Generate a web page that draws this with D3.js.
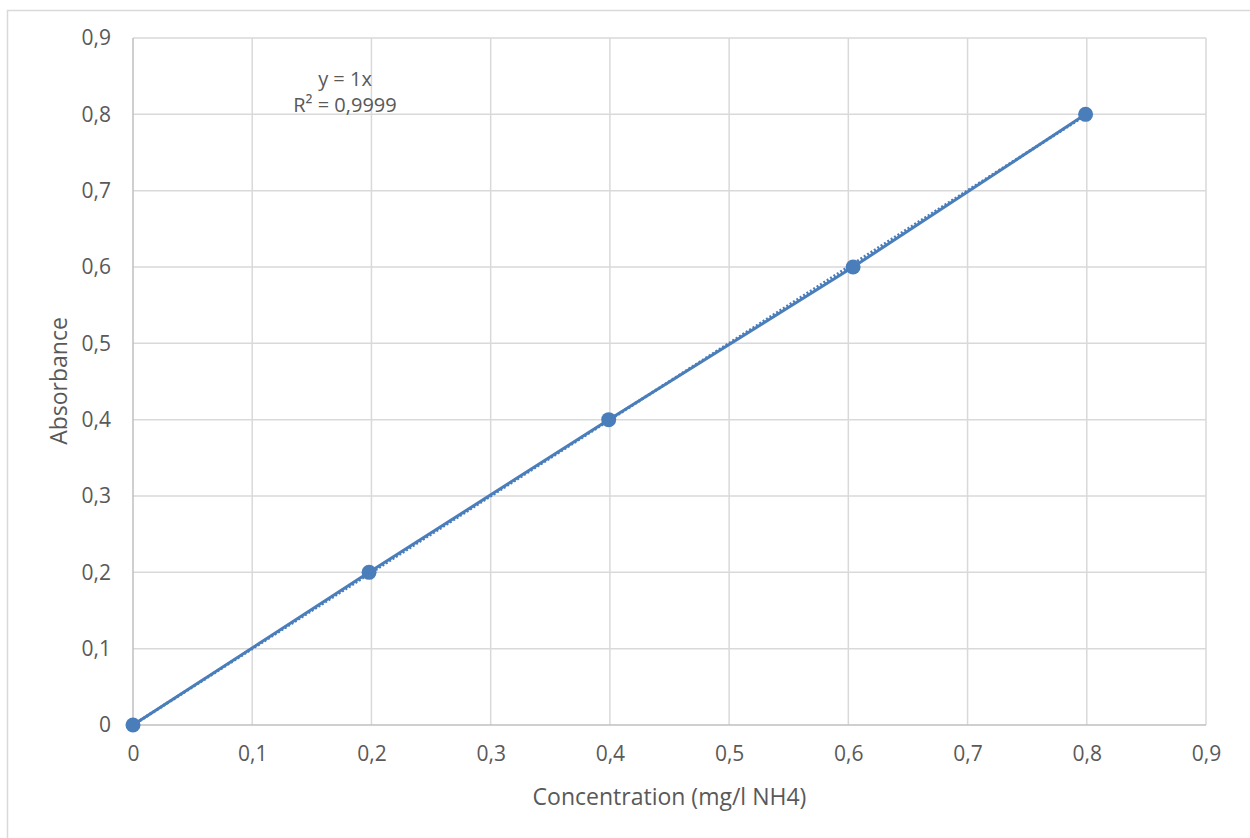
<!DOCTYPE html>
<html><head><meta charset="utf-8">
<script src="https://cdn.jsdelivr.net/npm/d3@7"></script>
<style>body{margin:0;background:#fff}svg{display:block}text{font-family:"Open Sans","Noto Sans",sans-serif;fill:#595959}</style>
</head><body><svg id="c" width="1250" height="838"></svg>
<script>
const concentration = [0, 0.198, 0.399, 0.604, 0.799];
const absorbance = [0, 0.2, 0.4, 0.6, 0.8];
const xTicks = [0,0.1,0.2,0.3,0.4,0.5,0.6,0.7,0.8,0.9];
const yTicks = [0,0.1,0.2,0.3,0.4,0.5,0.6,0.7,0.8,0.9];
const trendSlope = 1;
const equationLines = ["y = 1x", "R² = 0,9999"];
const xTitle = "Concentration (mg/l NH4)";
const yTitle = "Absorbance";

const svg = d3.select("#c");
const color = "#4a7ebb";
svg.append("rect").attr("x",7.5).attr("y",10.5).attr("width",1245).attr("height",840)
  .attr("fill","#fff").attr("stroke","#d9d9d9").attr("stroke-width",1.5);

const x = d3.scaleLinear().domain([0,0.9]).range([133,1206]);
const y = d3.scaleLinear().domain([0,0.9]).range([725,38]);
const fmt = d => d===0 ? "0" : d3.format(".1f")(d).replace(".",",");

const g = svg.append("g");
g.selectAll(".vg").data(xTicks.slice(1)).join("line")
  .attr("x1",d=>x(d)).attr("x2",d=>x(d)).attr("y1",y(0)).attr("y2",y(0.9))
  .attr("stroke","#d9d9d9").attr("stroke-width",1.5);
g.selectAll(".hg").data(yTicks.slice(1)).join("line")
  .attr("y1",d=>y(d)).attr("y2",d=>y(d)).attr("x1",x(0)).attr("x2",x(0.9))
  .attr("stroke","#d9d9d9").attr("stroke-width",1.5);
g.append("line").attr("x1",x(0)).attr("x2",x(0.9)).attr("y1",y(0)).attr("y2",y(0)).attr("stroke","#bfbfbf").attr("stroke-width",1.5);
g.append("line").attr("x1",x(0)).attr("x2",x(0)).attr("y1",y(0)).attr("y2",y(0.9)).attr("stroke","#bfbfbf").attr("stroke-width",1.5);

const xAxis = d3.axisBottom(x).tickValues(xTicks).tickFormat(fmt).tickSize(0).tickPadding(21);
const xa = svg.append("g").attr("transform",`translate(0,${y(0)})`).call(xAxis);
xa.select(".domain").remove();
xa.selectAll("text").style("fill","#595959").style("font-size","21px").style("font-family","'Open Sans'");
const yAxis = d3.axisLeft(y).tickValues(yTicks).tickFormat(fmt).tickSize(0).tickPadding(22);
const ya = svg.append("g").attr("transform",`translate(${x(0)},0)`).call(yAxis);
ya.select(".domain").remove();
ya.selectAll("text").style("fill","#595959").style("font-size","21px").style("font-family","'Open Sans'");

const xMax = d3.max(concentration);
svg.append("line").attr("x1",x(0)).attr("y1",y(0)).attr("x2",x(xMax)).attr("y2",y(trendSlope*xMax))
  .attr("stroke",color).attr("stroke-width",3).attr("stroke-dasharray","2,2");

const line = d3.line().x((d,i)=>x(concentration[i])).y(d=>y(d));
svg.append("path").datum(absorbance).attr("d",line).attr("fill","none").attr("stroke",color).attr("stroke-width",3);
svg.selectAll(".pt").data(absorbance).join("circle")
  .attr("cx",(d,i)=>x(concentration[i])).attr("cy",d=>y(d)).attr("r",7.5).attr("fill",color);

svg.append("g").selectAll("text").data(equationLines).join("text")
  .attr("x",345).attr("y",(d,i)=>86+i*26).attr("text-anchor","middle").attr("font-size",20).text(d=>d);

svg.append("text").attr("x",x(0.45)).attr("y",805).attr("text-anchor","middle").attr("font-size",23).text(xTitle);
svg.append("text").attr("transform","translate(67,381) rotate(-90)").attr("text-anchor","middle").attr("font-size",23).text(yTitle);
</script></body></html>
